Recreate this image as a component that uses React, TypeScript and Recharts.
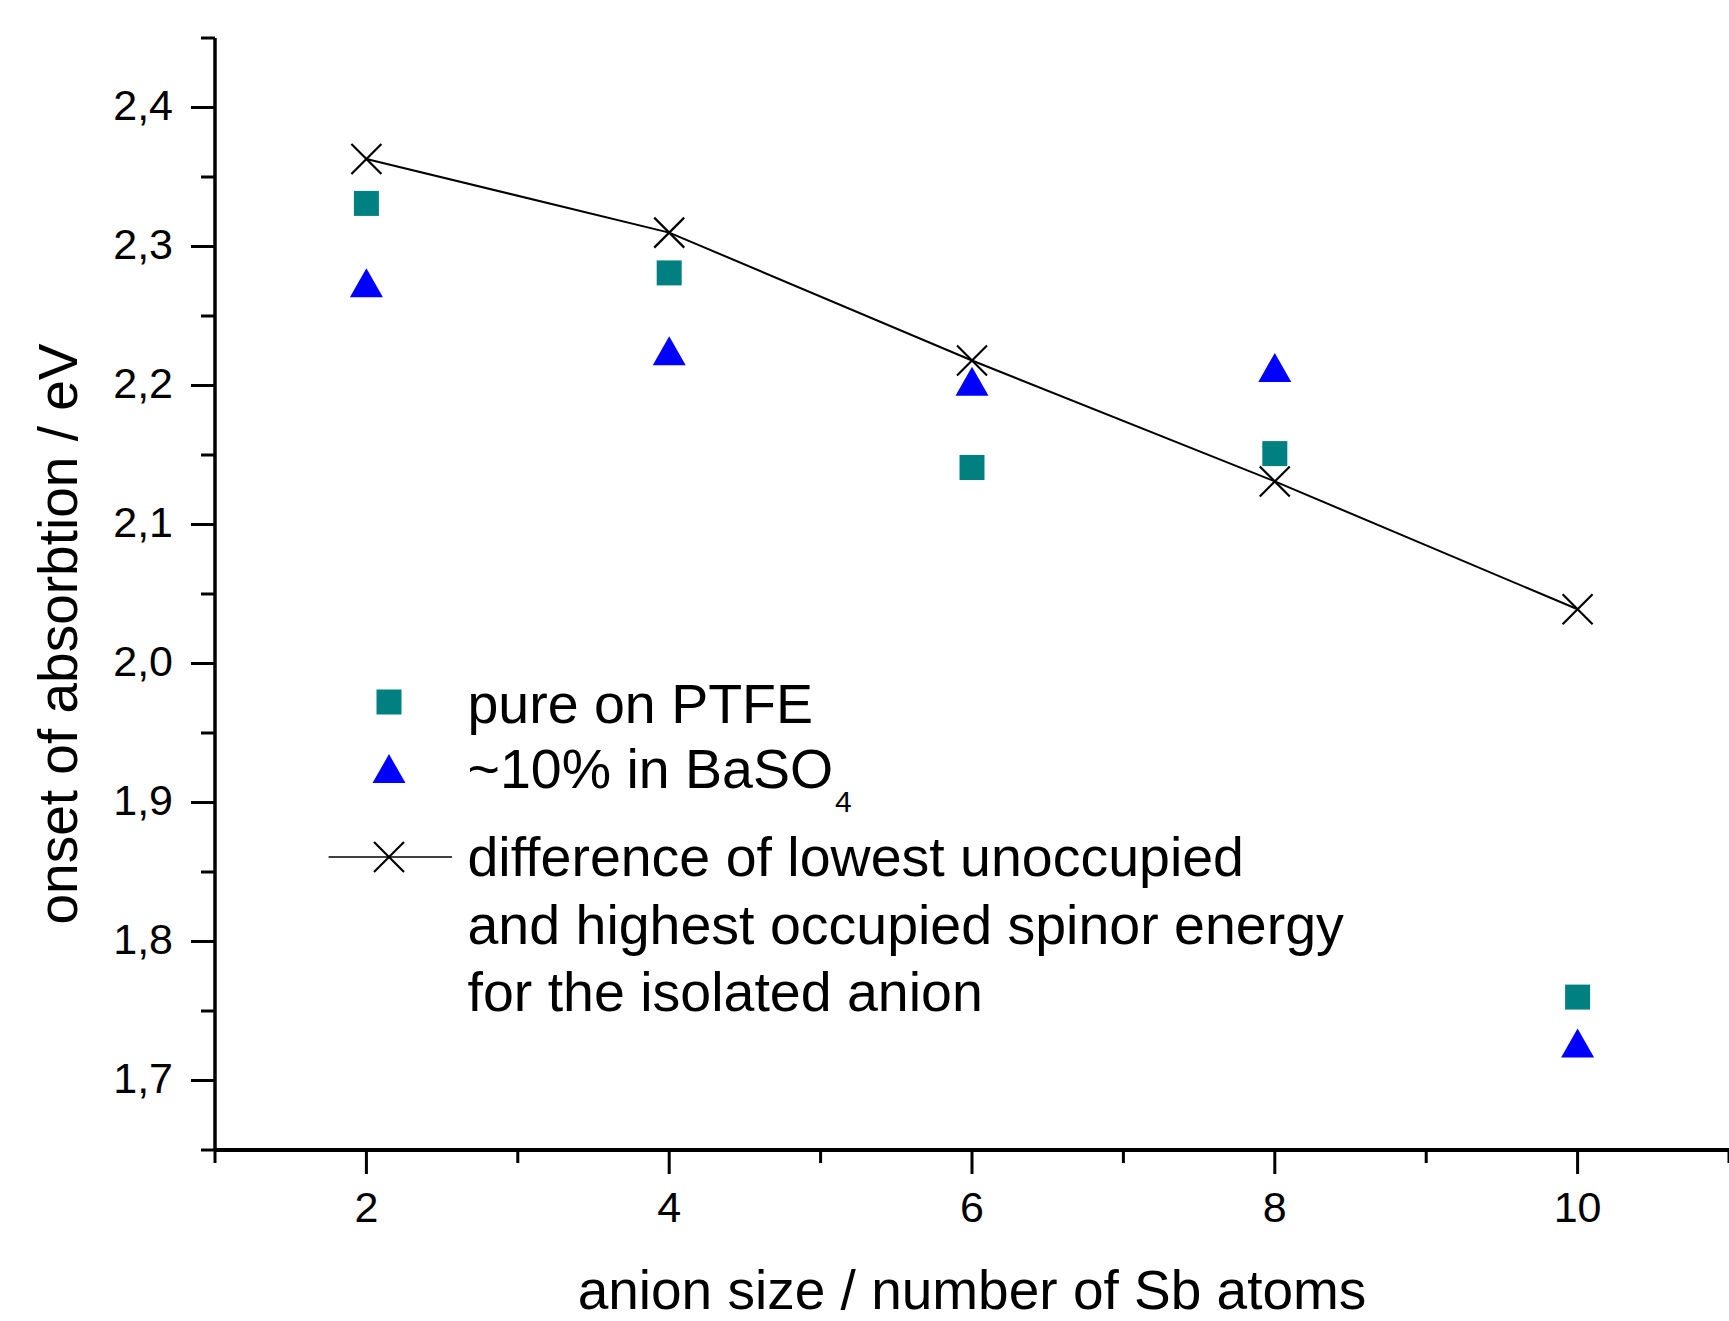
import React from 'react';
import { ComposedChart, Scatter, XAxis, YAxis, Legend, Label } from 'recharts';

// ---- data ----
const SB_ATOMS = [2, 4, 6, 8, 10];
const PURE_PTFE = [2.331, 2.281, 2.141, 2.151, 1.760];
const BASO4 = [2.274, 2.225, 2.203, 2.213, 1.727];
const SPINOR_GAP = [2.363, 2.310, 2.218, 2.131, 2.039];

const X_TICKS = [1, 2, 3, 4, 5, 6, 7, 8, 9, 10, 11];
const Y_TICKS = [1.65, 1.7, 1.75, 1.8, 1.85, 1.9, 1.95, 2.0, 2.05, 2.1, 2.15, 2.2, 2.25, 2.3, 2.35, 2.4, 2.45];

const SERIES_NAMES = ['pure on PTFE', '~10% in BaSO', 'difference of lowest unoccupied'];
const GAP_LABEL_LINES = ['difference of lowest unoccupied', 'and highest occupied spinor energy', 'for the isolated anion'];
const X_TITLE = 'anion size / number of Sb atoms';
const Y_TITLE = 'onset of absorbtion / eV';

const ptfeData = SB_ATOMS.map((x, i) => ({ x, y: PURE_PTFE[i] }));
const basoData = SB_ATOMS.map((x, i) => ({ x, y: BASO4[i] }));
const gapData = SB_ATOMS.map((x, i) => ({ x, y: SPINOR_GAP[i] }));

const FONT = '"Liberation Sans", Arial, sans-serif';
const TEAL = '#008080';
const BLUE = '#0000FF';

// ---- marker shapes ----
const SquareShape = (p: any) => {
  const s = 25;
  return <rect x={p.cx - s / 2} y={p.cy - s / 2} width={s} height={s} fill={TEAL} />;
};
const TriangleShape = (p: any) => {
  const w = 33, h = 29;
  const pts = `${p.cx - w / 2},${p.cy + h / 2} ${p.cx + w / 2},${p.cy + h / 2} ${p.cx},${p.cy - h / 2}`;
  return <polygon points={pts} fill={BLUE} />;
};
const CrossShape = (p: any) => {
  const r = 15;
  return (
    <g stroke="#000" strokeWidth={2.2} fill="none">
      <line x1={p.cx - r} y1={p.cy - r} x2={p.cx + r} y2={p.cy + r} />
      <line x1={p.cx - r} y1={p.cy + r} x2={p.cx + r} y2={p.cy - r} />
    </g>
  );
};

// ---- ticks ----
const XTick = (props: any) => {
  const { x, y, payload } = props;
  const v = payload.value;
  const major = v % 2 === 0;
  return (
    <g>
      <line x1={x} y1={y} x2={x} y2={y + (major ? 24 : 13)} stroke="#000" strokeWidth={3} />
      {major && (
        <text x={x} y={y + 72} textAnchor="middle" fontSize={43} fontFamily={FONT} fill="#000">
          {v}
        </text>
      )}
    </g>
  );
};
const YTick = (props: any) => {
  const { x, y, payload } = props;
  const v = payload.value;
  const major = Math.round(v * 100) % 10 === 0;
  return (
    <g>
      <line x1={x} y1={y} x2={x - (major ? 24 : 14)} y2={y} stroke="#000" strokeWidth={3} />
      {major && (
        <text x={x - 42} y={y} dy="0.3em" textAnchor="end" fontSize={43} fontFamily={FONT} fill="#000">
          {v.toFixed(1).replace('.', ',')}
        </text>
      )}
    </g>
  );
};

// ---- legend ----
const LegendBox = () => {
  const mx = 89;
  const tx = 167.5;
  return (
    <svg width={1300} height={420} style={{ display: 'block', overflow: 'visible' }}>
      <rect x={mx - 12.5} y={62 - 12.5} width={25} height={25} fill={TEAL} />
      <polygon points={`${mx - 16.5},${128.6 + 14.5} ${mx + 16.5},${128.6 + 14.5} ${mx},${128.6 - 14.5}`} fill={BLUE} />
      <line x1={28.6} y1={217} x2={152} y2={217} stroke="#000" strokeWidth={1.6} />
      <g stroke="#000" strokeWidth={2.2}>
        <line x1={mx - 15} y1={217 - 15} x2={mx + 15} y2={217 + 15} />
        <line x1={mx - 15} y1={217 + 15} x2={mx + 15} y2={217 - 15} />
      </g>
      <g fontFamily={FONT} fontSize={55.5} fill="#000">
        <text x={tx} y={83}>{SERIES_NAMES[0]}</text>
        <text x={tx} y={147.5}>
          {SERIES_NAMES[1]}
          <tspan style={{ fontSize: '30px' }} dx={2} dy={24}>4</tspan>
        </text>
        <text x={tx} y={236}>{GAP_LABEL_LINES[0]}</text>
        <text x={tx} y={304}>{GAP_LABEL_LINES[1]}</text>
        <text x={tx} y={371}>{GAP_LABEL_LINES[2]}</text>
      </g>
    </svg>
  );
};

const XTitle = (props: any) => {
  const vb = props.viewBox || { x: 215, y: 1150, width: 1514, height: 171 };
  return (
    <text x={vb.x + vb.width / 2} y={1309} textAnchor="middle" fontSize={55} fontFamily={FONT} fill="#000">
      {X_TITLE}
    </text>
  );
};
const YTitle = () => (
  <text x={77} y={634} transform="rotate(-90, 77, 634)" textAnchor="middle" fontSize={55} fontFamily={FONT} fill="#000">
    {Y_TITLE}
  </text>
);

export default function App() {
  return (
    <div style={{ position: 'absolute', left: 0, top: 0, width: 1729, height: 1321, background: '#fff' }}>
      <ComposedChart width={1729} height={1321} margin={{ top: 38, right: 0, bottom: 0, left: 0 }}>
        <XAxis
          type="number"
          dataKey="x"
          domain={[1, 11]}
          ticks={X_TICKS}
          interval={0}
          height={171}
          tickSize={0}
          tickMargin={0}
          tickLine={false}
          tick={<XTick />}
          axisLine={{ stroke: '#000', strokeWidth: 4 }}
          allowDataOverflow
        >
          <Label content={<XTitle />} />
        </XAxis>
        <YAxis
          type="number"
          dataKey="y"
          domain={[1.65, 2.45]}
          ticks={Y_TICKS}
          interval={0}
          width={215}
          tickSize={0}
          tickMargin={0}
          tickLine={false}
          tick={<YTick />}
          axisLine={{ stroke: '#000', strokeWidth: 3.5 }}
          allowDataOverflow
        >
          <Label content={<YTitle />} />
        </YAxis>
        <Legend
          layout="horizontal"
          verticalAlign="middle"
          align="center"
          wrapperStyle={{ position: 'absolute', left: 300, top: 640, width: 1300, height: 420 }}
          content={() => <LegendBox />}
        />
        <Scatter name={SERIES_NAMES[0]} data={ptfeData} shape={SquareShape} isAnimationActive={false} />
        <Scatter name={SERIES_NAMES[1]} data={basoData} shape={TriangleShape} isAnimationActive={false} />
        <Scatter
          name={SERIES_NAMES[2]}
          data={gapData}
          shape={CrossShape}
          line={{ stroke: '#000', strokeWidth: 2 }}
          lineType="joint"
          isAnimationActive={false}
        />
      </ComposedChart>
    </div>
  );
}
